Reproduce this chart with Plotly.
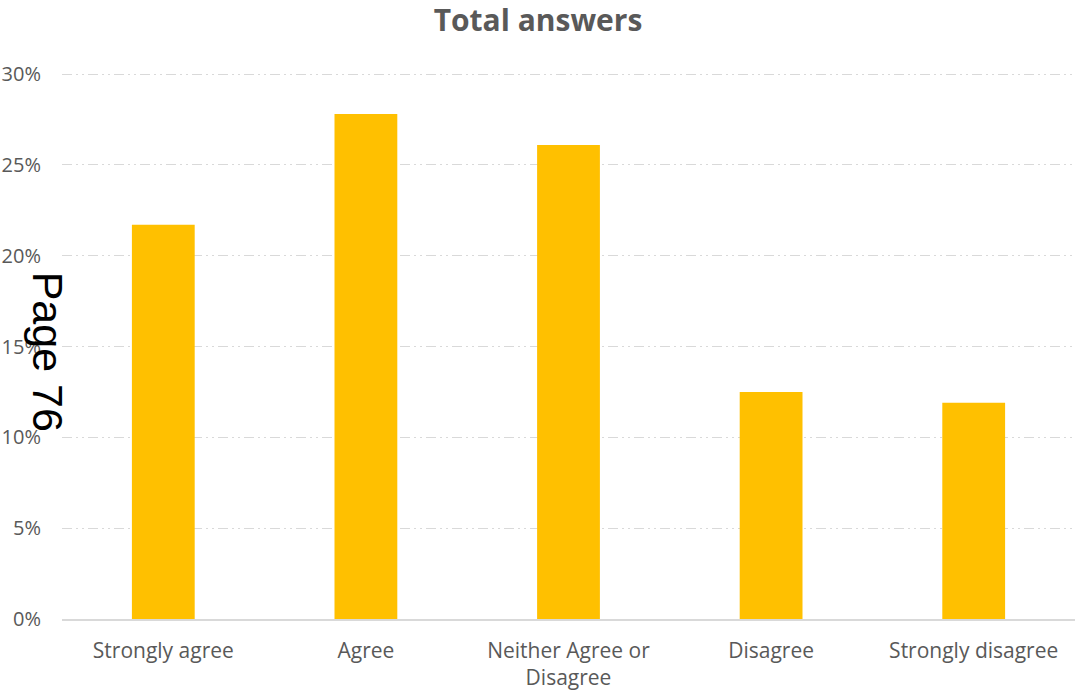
import plotly.graph_objects as go

categories = ["Strongly agree", "Agree", "Neither Agree or<br>Disagree", "Disagree", "Strongly disagree"]
shares = [0.217, 0.278, 0.261, 0.125, 0.119]
y_ticks = [0, 0.05, 0.10, 0.15, 0.20, 0.25, 0.30]
y_tick_text = ["0%", "5%", "10%", "15%", "20%", "25%", "30%"]

font_family = "'Open Sans', Lato, sans-serif"

fig = go.Figure()
fig.add_trace(go.Bar(
	x=categories,
	y=shares,
	marker=dict(color="#FFC000", line=dict(width=0)),
	width=0.31,
	hoverinfo="skip",
))

fig.update_layout(
	width=1076,
	height=692,
	paper_bgcolor="white",
	plot_bgcolor="white",
	margin=dict(l=62, r=1, t=73, b=73),
	showlegend=False,
	title=dict(
		text="<b>Total answers</b>",
		x=0.5, xanchor="center",
		y=0.970, yanchor="middle",
		font=dict(family=font_family, size=30, color="#595959"),
	),
	xaxis=dict(
		showgrid=False,
		showline=True,
		linecolor="#D9D9D9",
		linewidth=1.5,
		ticks="",
		ticklabelstandoff=12,
		tickfont=dict(family=font_family, size=21, color="#595959"),
	),
	yaxis=dict(
		range=[0, 0.3006],
		tickvals=y_ticks,
		ticktext=y_tick_text,
		showgrid=True,
		gridcolor="#D9D9D9",
		griddash="10px,4px,2px,4px,2px,4px",
		gridwidth=1,
		zeroline=False,
		showline=False,
		ticks="",
		ticklabelstandoff=20,
		tickfont=dict(family=font_family, size=20, color="#595959"),
	),
)

fig.add_annotation(
	text="Page 76",
	xref="paper", yref="paper",
	x=-0.014, y=0.49,
	xanchor="center", yanchor="middle",
	showarrow=False,
	textangle=90,
	font=dict(family="'Liberation Sans', Arial, sans-serif", size=43, color="black"),
)

fig.write_html("out.html", config={"displayModeBar": False},
	post_script="document.body.style.margin='0';")
